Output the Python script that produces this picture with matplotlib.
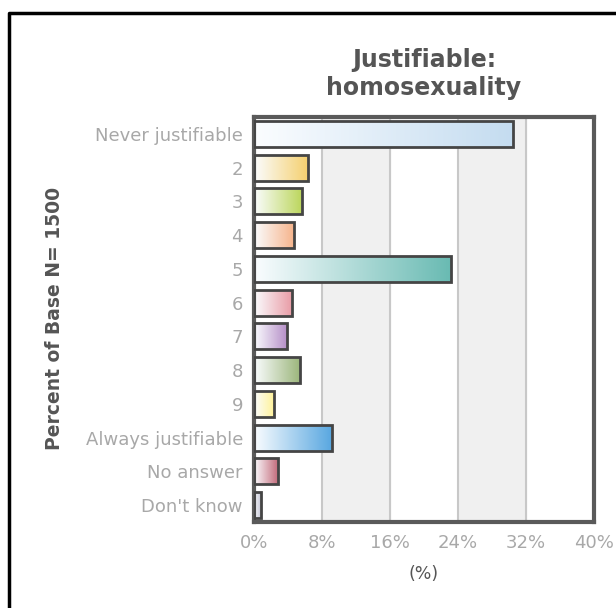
import numpy as np
import matplotlib.pyplot as plt
from matplotlib.colors import LinearSegmentedColormap
from matplotlib.lines import Line2D

# Respuestas y porcentajes
categorias = ["Never justifiable", "2", "3", "4", "5", "6", "7", "8", "9",
              "Always justifiable", "No answer", "Don't know"]
porcentajes = [30.5, 6.4, 5.6, 4.7, 23.2, 4.5, 3.9, 5.4, 2.3, 9.2, 2.8, 0.8]
colores = ["#c4dcf0", "#f5cf6c", "#bcd65c", "#f6b48c", "#68bab2", "#e89aa4",
           "#b48cc6", "#9cb67c", "#fff29a", "#56a6e0", "#c46c7c", "#c4c4d4"]
ticks_x = [0, 8, 16, 24, 32, 40]

fig = plt.figure(figsize=(6.16, 6.08), dpi=100)
ax = fig.add_axes([254 / 616, 1 - 522 / 608, 340 / 616, 405 / 608])

# bandas alternas y rejilla vertical
for a, b in [(8, 16), (24, 32)]:
    ax.axvspan(a, b, color="#f0f0f0", zorder=0)
for t in ticks_x[1:-1]:
    ax.axvline(t, color="#c8c8c8", lw=1.5, zorder=1)

h = 0.77
grad = np.linspace(0, 1, 256).reshape(1, -1)
for i, (v, c) in enumerate(zip(porcentajes, colores)):
    cmap = LinearSegmentedColormap.from_list("g%d" % i, ["#fbfdff", c])
    ax.imshow(grad, cmap=cmap, extent=[0, v, i + h / 2, i - h / 2],
              aspect="auto", interpolation="bicubic", zorder=2)
    ax.barh(i, v, height=h, fill=False, edgecolor="#454545", lw=2, zorder=3)

ax.set_xlim(0, 40)
ax.set_ylim(len(categorias) - 0.5, -0.5)
ax.set_yticks(range(len(categorias)))
ax.set_yticklabels(categorias, color="#a8a8a8", fontsize=13)
ax.set_xticks(ticks_x)
ax.set_xticklabels(["%d%%" % t for t in ticks_x], color="#a8a8a8", fontsize=13)
ax.tick_params(axis="y", length=0, pad=8)
ax.tick_params(axis="x", length=0, pad=9)
for s in ax.spines.values():
    s.set_color("#5a5a5a")
    s.set_linewidth(3)
ax.set_xlabel("(%)", color="#555555", fontsize=12.5, labelpad=9)

fig.text(424 / 616, 1 - 74 / 608, "Justifiable:\nhomosexuality", ha="center",
         va="center", fontsize=17, fontweight="bold", color="#555555",
         linespacing=1.2)
fig.text(55 / 616, 1 - 318 / 608, "Percent of Base N= 1500", rotation=90,
         ha="center", va="center", fontsize=13.5, fontweight="bold",
         color="#555555")

# marco exterior
fig.add_artist(Line2D([9 / 616, 9 / 616, 1], [0, 1 - 13 / 608, 1 - 13 / 608],
                      color="black", lw=2.5, transform=fig.transFigure))

fig.savefig("out.png", dpi=100)
